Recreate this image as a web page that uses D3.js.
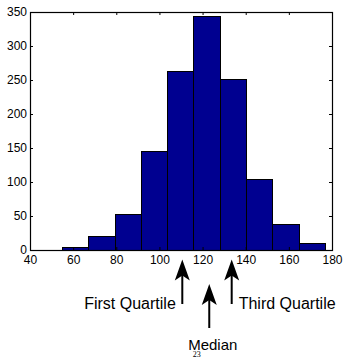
<!DOCTYPE html>
<html>
<head>
<meta charset="utf-8">
<script src="https://cdn.jsdelivr.net/npm/d3@7"></script>
<style>
  body { margin: 0; background: #fff; }
  text { font-family: "Liberation Sans", Arial, Helvetica, sans-serif; fill: #000; }
</style>
</head>
<body>
<div id="chart"></div>
<script>
// Histogram data
const binEdges = [54.7, 67.0, 79.2, 91.3, 103.6, 115.7, 127.9, 140.1, 152.3, 164.6, 176.6];
const binCounts = [5, 20, 53, 145, 263, 344, 251, 105, 38, 10];
const xTicks = [40, 60, 80, 100, 120, 140, 160, 180];
const yTicks = [0, 50, 100, 150, 200, 250, 300, 350];

// Quartile markers under the axis
const markerNames = ["First Quartile", "Median", "Third Quartile"];
const markerValues = [110.6, 123.1, 133.5];
const pageNumber = "23";

const width = 344;
const height = 359;
const margin = {top: 12, right: 12, bottom: 109, left: 30};

const svg = d3.select("#chart")
    .append("svg")
    .attr("width", width)
    .attr("height", height);

const x = d3.scaleLinear()
    .domain([40, 180])
    .range([margin.left, width - margin.right]);

const y = d3.scaleLinear()
    .domain([0, 350])
    .range([height - margin.bottom, margin.top]);

const bins = binCounts.map((c, i) => ({x0: binEdges[i], x1: binEdges[i + 1], count: c}));

// bars
svg.append("g")
    .selectAll("rect")
    .data(bins)
    .enter().append("rect")
    .attr("x", d => Math.round(x(d.x0)) + 0.5)
    .attr("y", d => Math.round(y(d.count)) + 0.5)
    .attr("width", d => Math.round(x(d.x1)) - Math.round(x(d.x0)))
    .attr("height", d => Math.round(y(0)) - Math.round(y(d.count)))
    .attr("fill", "#000090")
    .attr("stroke", "#000")
    .attr("stroke-width", 1);

// axes with inward ticks
const bottomAxis = d3.axisBottom(x).tickValues(xTicks).tickSizeInner(-3).tickSizeOuter(0).tickPadding(5);
const topAxis = d3.axisTop(x).tickValues(xTicks).tickSizeInner(-3).tickSizeOuter(0).tickFormat("");
const leftAxis = d3.axisLeft(y).tickValues(yTicks).tickSizeInner(-3).tickSizeOuter(0).tickPadding(3);
const rightAxis = d3.axisRight(y).tickValues(yTicks).tickSizeInner(-3).tickSizeOuter(0).tickFormat("");

function styleAxis(g) {
    g.select(".domain").remove();
    g.selectAll(".tick line").attr("stroke", "#000");
    g.selectAll(".tick text")
        .attr("font-family", "'Liberation Sans', Arial, Helvetica, sans-serif")
        .attr("font-size", 12)
        .attr("fill", "#000");
}

svg.append("g").attr("transform", `translate(0,${y(0)})`).call(bottomAxis).call(styleAxis);
svg.append("g").attr("transform", `translate(0,${y(350)})`).call(topAxis).call(styleAxis);
svg.append("g").attr("transform", `translate(${x(40)},0)`).call(leftAxis).call(styleAxis);
svg.append("g").attr("transform", `translate(${x(180)},0)`).call(rightAxis).call(styleAxis);

// frame
svg.append("rect")
    .attr("x", x(40) + 0.5)
    .attr("y", y(350) + 0.5)
    .attr("width", x(180) - x(40))
    .attr("height", y(0) - y(350))
    .attr("fill", "none")
    .attr("stroke", "#000")
    .attr("stroke-width", 1.2);

// arrows pointing at the quartiles
function arrow(cx, tipY, bottomY) {
    const g = svg.append("g");
    g.append("line")
        .attr("x1", cx).attr("x2", cx)
        .attr("y1", tipY + 12).attr("y2", bottomY)
        .attr("stroke", "#000")
        .attr("stroke-width", 2);
    g.append("path")
        .attr("d", `M${cx},${tipY} L${cx + 7.5},${tipY + 21} L${cx},${tipY + 16} L${cx - 7.5},${tipY + 21} Z`)
        .attr("fill", "#000");
}

const tipTop = 259.5, tipLow = 284;
markerValues.forEach((v, i) => {
    const cx = x(v);
    if (i === 1) {
        arrow(cx, tipLow, 328);
        svg.append("text")
            .attr("x", cx + 3.5)
            .attr("y", 349.5)
            .attr("text-anchor", "middle")
            .attr("font-size", 15)
            .text(markerNames[i]);
    } else {
        arrow(cx, tipTop, 304);
        svg.append("text")
            .attr("x", i === 0 ? cx - 6.5 : cx + 7)
            .attr("y", 308.5)
            .attr("text-anchor", i === 0 ? "end" : "start")
            .attr("font-size", 16)
            .text(markerNames[i]);
    }
});

svg.append("text")
    .attr("x", 196.7)
    .attr("y", 356.5)
    .attr("text-anchor", "middle")
    .attr("font-size", 8)
    .style("font-family", "'Liberation Serif', 'Times New Roman', serif")
    .text(pageNumber);
</script>
</body>
</html>
